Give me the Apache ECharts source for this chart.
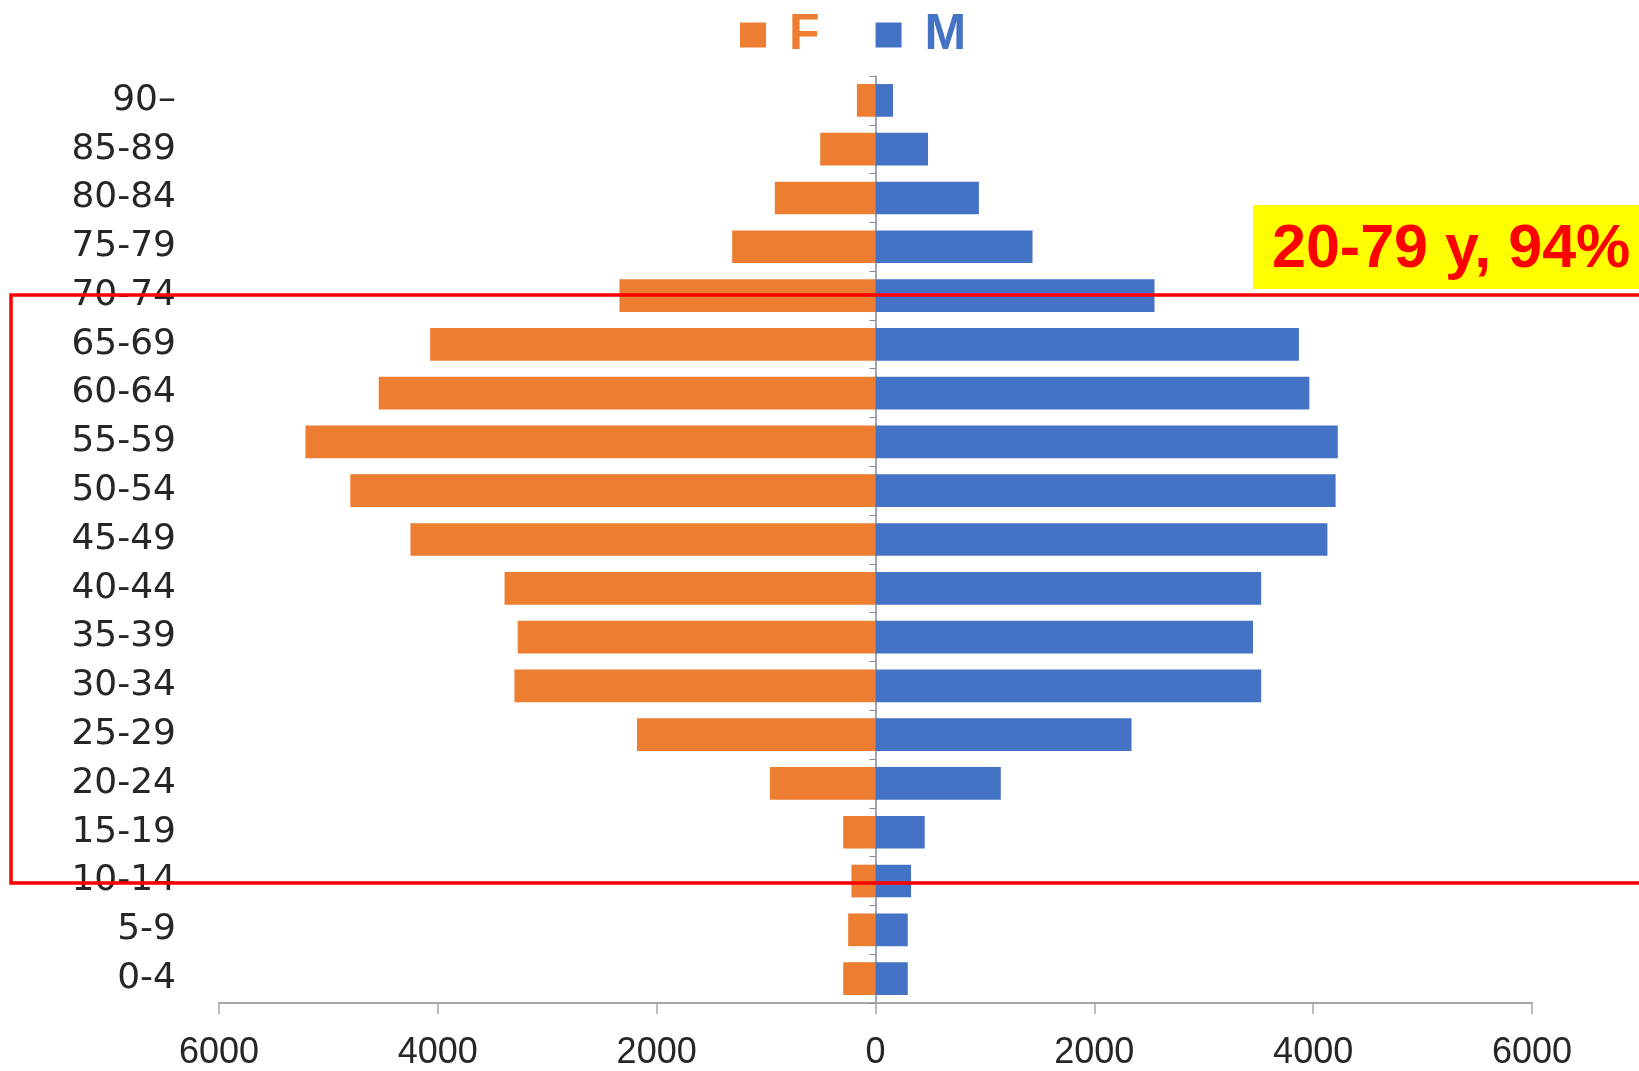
<!DOCTYPE html>
<html>
<head>
<meta charset="utf-8">
<script src="https://cdn.jsdelivr.net/npm/echarts@6/dist/echarts.min.js"></script>
<style>
  html, body { margin: 0; padding: 0; background: #fff; }
  #main { width: 1639px; height: 1071px; }
</style>
</head>
<body>
<div id="main"></div>
<script>
// age groups, bottom to top
const ageGroups = [
  "0-4", "5-9", "10-14", "15-19", "20-24", "25-29", "30-34", "35-39",
  "40-44", "45-49", "50-54", "55-59", "60-64", "65-69", "70-74",
  "75-79", "80-84", "85-89", "90–"
];

// females (drawn to the left)
const femaleValues = [
  295, 250, 220, 295, 965, 2180, 3300, 3270, 3390, 4250,
  4800, 5210, 4540, 4070, 2340, 1310, 920, 505, 170
];

// males (drawn to the right)
const maleValues = [
  295, 295, 325, 450, 1145, 2340, 3525, 3450, 3525, 4130,
  4205, 4225, 3965, 3870, 2550, 1435, 945, 480, 160
];

const xTicks = [-6000, -4000, -2000, 0, 2000, 4000, 6000];

const orange = "#ED7D31";
const blue = "#4472C4";

const myChart = echarts.init(document.getElementById("main"));

myChart.setOption({
  backgroundColor: "#ffffff",
  animation: false,
  legend: {
    left: 735,
    top: 5,
    itemWidth: 26,
    itemHeight: 25,
    itemGap: 56,
    icon: "rect",
    data: [
      { name: "F", textStyle: { color: orange } },
      { name: "M", textStyle: { color: blue } }
    ],
    textStyle: {
      fontFamily: "Liberation Sans",
      fontWeight: "bold",
      fontSize: 50,
      padding: [0, 0, 0, 18]
    }
  },
  grid: {
    left: 219,
    right: 107,
    top: 76,
    bottom: 68,
    containLabel: false,
    outerBoundsMode: "none"
  },
  xAxis: {
    type: "value",
    min: xTicks[0],
    max: xTicks[xTicks.length - 1],
    interval: 2000,
    splitLine: { show: false },
    axisLine: { show: true, onZero: false, lineStyle: { color: "#a6a6a6", width: 2 } },
    axisTick: { show: true, length: 11, lineStyle: { color: "#a6a6a6", width: 1.5 } },
    axisLabel: {
      color: "#262626",
      fontFamily: "Liberation Sans Narrow, Liberation Sans",
      fontSize: 36,
      margin: 32,
      formatter: (v) => String(Math.abs(v))
    }
  },
  yAxis: [
    {
      // centre line with ticks, on x = 0
      type: "category",
      data: ageGroups,
      axisLine: { show: true, onZero: true, lineStyle: { color: "#7f8a99", width: 1.5 } },
      axisTick: { show: true, length: 6, lineStyle: { color: "#8c8c8c" } },
      axisLabel: { show: false }
    },
    {
      // labels only, on the far left
      type: "category",
      data: ageGroups,
      position: "left",
      axisLine: { show: false, onZero: false },
      axisTick: { show: false },
      axisLabel: {
        color: "#262626",
        fontFamily: "DejaVu Sans",
        fontSize: 36,
        margin: 43,
        padding: [12, 0, 0, 0]
      }
    }
  ],
  series: [
    {
      name: "F",
      type: "bar",
      data: femaleValues.map((v) => -v),
      itemStyle: { color: orange },
      barCategoryGap: "33%",
      barGap: "-100%"
    },
    {
      name: "M",
      type: "bar",
      data: maleValues,
      itemStyle: { color: blue },
      barCategoryGap: "33%",
      barGap: "-100%"
    }
  ],
  graphic: [
    {
      type: "rect",
      z: 100,
      shape: { x: 11, y: 295, width: 1660, height: 588 },
      style: { fill: null, stroke: "#ff0000", lineWidth: 3.5 }
    },
    {
      type: "rect",
      z: 101,
      shape: { x: 1253, y: 205, width: 400, height: 84 },
      style: { fill: "#ffff00" }
    },
    {
      type: "text",
      z: 102,
      x: 1272,
      y: 250,
      style: {
        text: "20-79 y, 94%",
        fill: "#ff0000",
        font: "bold 61px 'Liberation Sans'",
        textVerticalAlign: "middle"
      }
    }
  ]
});
</script>
</body>
</html>
